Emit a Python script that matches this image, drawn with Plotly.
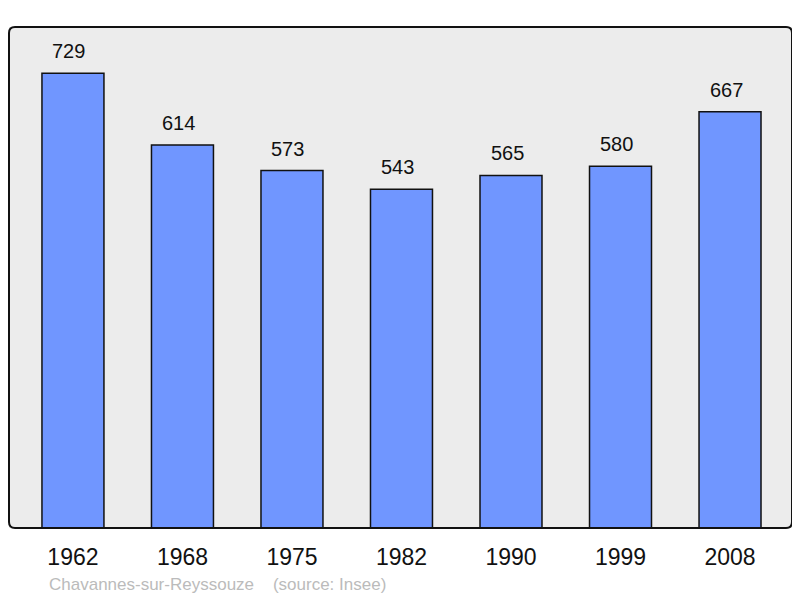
import plotly.graph_objects as go

years = ["1962", "1968", "1975", "1982", "1990", "1999", "2008"]
population = [729, 614, 573, 543, 565, 580, 667]
source_text = "Chavannes-sur-Reyssouze\u00a0\u00a0\u00a0\u00a0(source: Insee)"

xpos = list(range(len(years)))
FONT = "Liberation Sans, Arial, sans-serif"

fig = go.Figure()
fig.add_trace(go.Bar(
    x=xpos, y=population, width=0.566,
    marker=dict(color="#7096ff", line=dict(color="#111111", width=1.5)),
    hoverinfo="x+y",
))

for xi, v in zip(xpos, population):
    fig.add_annotation(x=xi, y=v, text=str(v), showarrow=False,
                       yshift=22, xshift=-4, yanchor="middle",
                       font=dict(family=FONT, size=20, color="#111111"))

fig.add_annotation(xref="paper", yref="paper", x=0.049, y=-0.113,
                   xanchor="left", yanchor="middle", showarrow=False,
                   text=source_text,
                   font=dict(family=FONT, size=17, color="#bbbbbb"))

# rounded border around plot area (paper coordinates)
W, H = 783.0, 501.0
r = 6.0
rx, ry = r / W, r / H
path = (f"M {rx},0 L {1-rx},0 Q 1,0 1,{ry} L 1,{1-ry} Q 1,1 {1-rx},1 "
        f"L {rx},1 Q 0,1 0,{1-ry} L 0,{ry} Q 0,0 {rx},0 Z")
fig.add_shape(type="path", xref="paper", yref="paper", path=path,
              line=dict(color="#111111", width=2), layer="above")

fig.update_layout(
    width=800, height=598,
    margin=dict(l=1, r=16, t=19, b=78),
    paper_bgcolor="white", plot_bgcolor="#ececec",
    showlegend=False,
    font=dict(family=FONT, color="#111111"),
    xaxis=dict(range=[-0.584, 6.566], tickvals=xpos, ticktext=years,
               showgrid=False, zeroline=False, ticks="",
               tickfont=dict(size=23, family=FONT, color="#111111"),
               ticklabelstandoff=13, fixedrange=True),
    yaxis=dict(range=[0, 803], showgrid=False, zeroline=False,
               showticklabels=False, ticks="", fixedrange=True),
)

fig.write_html("out.html")
